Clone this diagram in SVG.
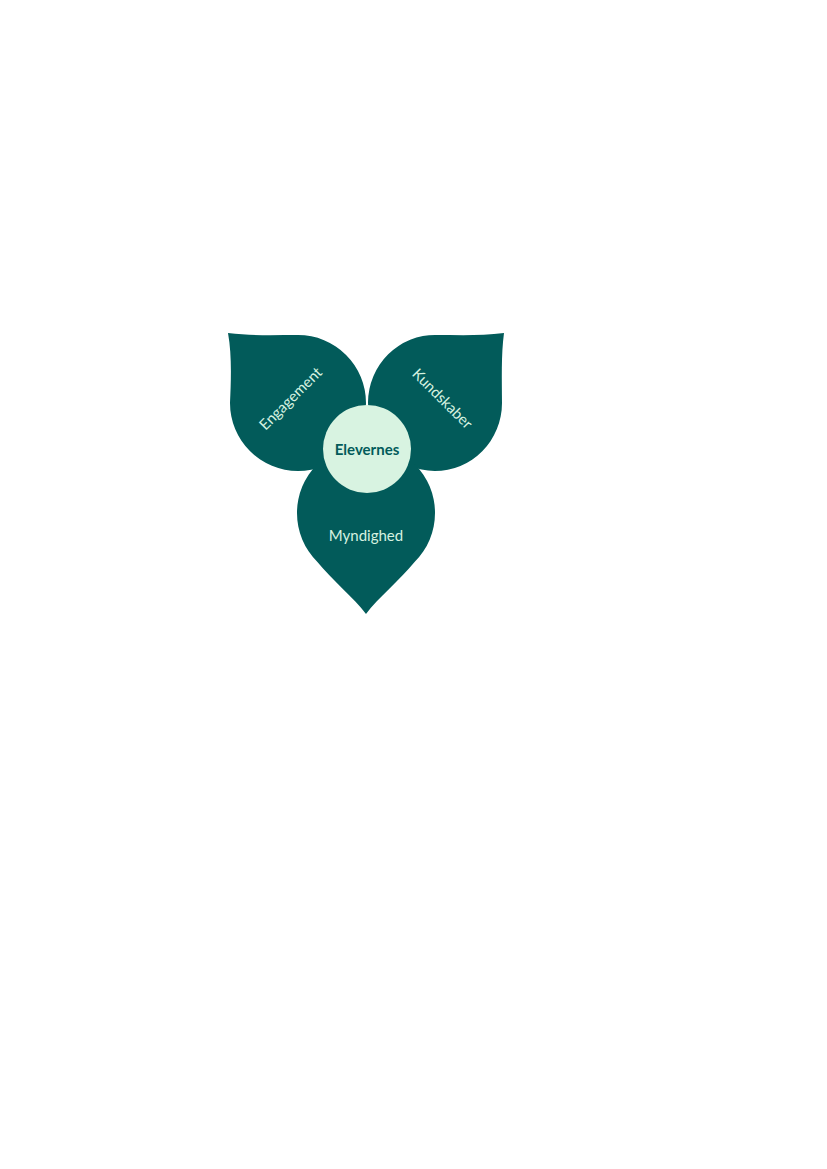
<svg xmlns="http://www.w3.org/2000/svg" width="827" height="1169" viewBox="0 0 827 1169">
<style>
.petal{fill:#025b5a}
.lbl{font-family:Lato,"Open Sans",sans-serif;font-size:15px;fill:#d6f2e0;text-anchor:middle;dominant-baseline:central}
.ctr{font-family:Lato,"Open Sans",sans-serif;font-size:15px;font-weight:bold;fill:#025b5a;text-anchor:middle;dominant-baseline:central}
</style>
<rect width="827" height="1169" fill="#ffffff"/>
<g id="connectors"></g>
<g id="engagement">
<path class="petal" d="M228,333 C252,336 275,335 298,335 A68,68 0 1 1 230,403 C231,380 232,355 228,333 Z"/>
<text class="lbl" transform="translate(290,398) rotate(-45)">Engagement</text>
</g>
<g id="kundskaber">
<path class="petal" d="M504,333 C501,355 502,380 502,403 A67,68 0 1 1 436,335 C458,335 482,336 504,333 Z"/>
<text class="lbl" transform="translate(443,398) rotate(45)">Kundskaber</text>
</g>
<g id="myndighed">
<path class="petal" d="M366,614 C354,598 332,580 317.2,561.8 A69,69 0 1 1 414.8,561.8 C400,580 378,598 366,614 Z"/>
<text class="lbl" x="366" y="535">Myndighed</text>
</g>
<g id="elevernes">
<circle cx="367" cy="449" r="44" fill="#d8f3e1"/>
<text class="ctr" x="367" y="449">Elevernes</text>
</g>
</svg>
